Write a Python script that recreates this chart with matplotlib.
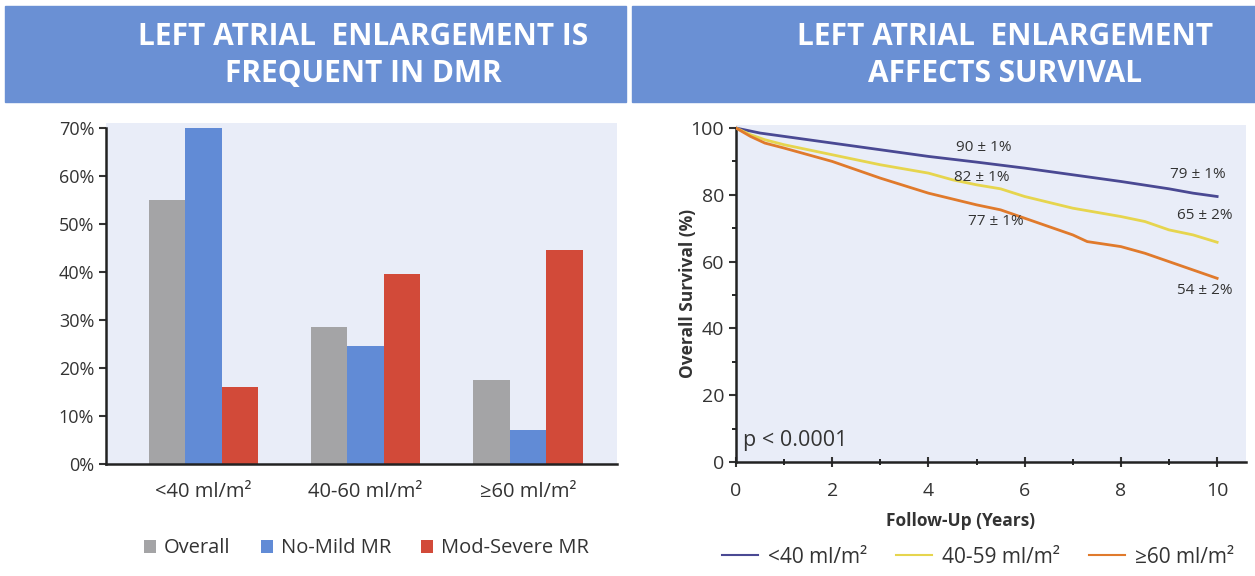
import matplotlib
matplotlib.use('Agg')
import matplotlib.pyplot as plt
import numpy as np
from matplotlib.patches import Rectangle
from matplotlib.lines import Line2D
from matplotlib.ticker import MultipleLocator

plt.rcParams['font.family'] = ['Open Sans', 'DejaVu Sans']

# Left panel: LA size distribution
groups = ['<40 ml/m²', '40-60 ml/m²', '≥60 ml/m²']
overall = [55, 28.5, 17.5]
no_mild = [70, 24.5, 7]
mod_severe = [16, 39.5, 44.5]
bar_labels = ['Overall', 'No-Mild MR', 'Mod-Severe MR']
bar_colors = ['#a4a4a6', '#618bd6', '#d24a39']

# Right panel: survival curves (years, %)
t_lt40 = [0, 0.5, 1, 1.5, 2, 3, 4, 5, 6, 7, 8, 9, 9.5, 10]
s_lt40 = [100, 98.5, 97.5, 96.5, 95.5, 93.5, 91.5, 89.8, 88, 86, 84, 81.8, 80.5, 79.5]
t_40_59 = [0, 0.3, 0.6, 1, 1.5, 2, 3, 4, 4.5, 5, 5.5, 6, 7, 8, 8.5, 9, 9.5, 10]
s_40_59 = [100, 98, 96.5, 95, 93.5, 92, 89, 86.5, 84.5, 83, 81.8, 79.5, 76, 73.5, 72, 69.5, 68, 65.8]
t_ge60 = [0, 0.3, 0.6, 1, 1.5, 2, 2.5, 3, 4, 5, 5.5, 6, 6.5, 7, 7.3, 8, 8.5, 9, 9.5, 10]
s_ge60 = [100, 97.5, 95.5, 94, 92, 90, 87.5, 85, 80.5, 77, 75.5, 73, 70.5, 68, 66, 64.5, 62.5, 60, 57.5, 55]
curve_labels = ['<40 ml/m²', '40-59 ml/m²', '≥60 ml/m²']
curve_colors = ['#4a4993', '#e6d54e', '#e07a2c']

# (text, x, y)
annotations = [('90 ± 1%', 5.15, 94.2), ('82 ± 1%', 5.1, 85.3), ('77 ± 1%', 5.4, 71.9),
               ('79 ± 1%', 9.6, 86.0), ('65 ± 2%', 9.75, 73.7), ('54 ± 2%', 9.75, 51.5)]

header_color = '#6a90d4'
panel_color = '#e9edf8'
text_color = '#333333'

fig = plt.figure(figsize=(12.55, 5.76), dpi=100)
W, H = 1255, 576

# Header bands
for x0, x1 in [(5, 626), (632, 1255)]:
    fig.patches.append(Rectangle((x0 / W, 1 - 102 / H), (x1 - x0) / W, 96 / H,
                                 transform=fig.transFigure, color=header_color, zorder=0))
head_kw = dict(ha='center', va='center', color='white', fontsize=21.5, fontweight='bold')
fig.text(363 / W, 1 - 37 / H, 'LEFT ATRIAL  ENLARGEMENT IS', **head_kw)
fig.text(363 / W, 1 - 74 / H, 'FREQUENT IN DMR', **head_kw)
fig.text(1005 / W, 1 - 37 / H, 'LEFT ATRIAL  ENLARGEMENT', **head_kw)
fig.text(1005 / W, 1 - 74 / H, 'AFFECTS SURVIVAL', **head_kw)

# ---- Left bar chart ----
ax1 = fig.add_axes([106 / W, 1 - 464 / H, 511 / W, (464 - 123) / H])
ax1.set_facecolor(panel_color)
x = np.arange(len(groups))
width = 0.225
for i, (vals, lab, col) in enumerate(zip([overall, no_mild, mod_severe], bar_labels, bar_colors)):
    ax1.bar(x + (i - 1) * width, vals, width, color=col, label=lab, zorder=2)
ax1.set_xlim(-0.6, 2.55)
ax1.set_ylim(0, 71)
ax1.set_yticks(range(0, 71, 10))
ax1.set_yticklabels([f'{v}%' for v in range(0, 71, 10)])
ax1.set_xticks(x)
ax1.set_xticklabels(groups)
ax1.tick_params(axis='x', length=0, pad=13, labelsize=14.5, colors=text_color)
ax1.tick_params(axis='y', length=5, width=1.5, labelsize=13, colors=text_color)
for s in ['top', 'right']:
    ax1.spines[s].set_visible(False)
ax1.spines['left'].set_bounds(0, 70)
for s in ['left', 'bottom']:
    ax1.spines[s].set_linewidth(1.8)
    ax1.spines[s].set_color('#222222')
ax1.legend(loc='upper center', bbox_to_anchor=(0.51, -0.165), ncol=3, frameon=False,
           fontsize=14.5, handlelength=0.6, handleheight=0.6, handletextpad=0.4,
           columnspacing=1.5, labelcolor=text_color)

# ---- Right survival chart ----
ax2 = fig.add_axes([736 / W, 1 - 462 / H, 510 / W, (462 - 124.7) / H])
ax2.set_facecolor(panel_color)
for t, s, lab, col in zip([t_lt40, t_40_59, t_ge60], [s_lt40, s_40_59, s_ge60],
                          curve_labels, curve_colors):
    ax2.plot(t, s, color=col, lw=2, label=lab, zorder=3)
for txt, tx, ty in annotations:
    ax2.text(tx, ty, txt, ha='center', va='center', fontsize=11, color=text_color)
ax2.text(0.15, 6.5, 'p < 0.0001', ha='left', va='center', fontsize=15.5, color=text_color)
ax2.set_xlim(0, 10.6)
ax2.set_ylim(0, 101)
ax2.set_xticks(range(0, 11, 2))
ax2.set_yticks(range(0, 101, 20))
ax2.xaxis.set_minor_locator(MultipleLocator(1))
ax2.yaxis.set_minor_locator(MultipleLocator(10))
ax2.tick_params(axis='x', which='major', direction='inout', length=7, width=1.5,
                labelsize=14, colors=text_color, pad=11)
ax2.tick_params(axis='x', which='minor', direction='inout', length=4, width=1.2)
ax2.tick_params(axis='y', which='major', length=5, width=1.5, labelsize=14, colors=text_color)
ax2.tick_params(axis='y', which='minor', length=3, width=1.2)
for s in ['top', 'right']:
    ax2.spines[s].set_visible(False)
ax2.spines['left'].set_bounds(0, 100)
for s in ['left', 'bottom']:
    ax2.spines[s].set_linewidth(1.8)
    ax2.spines[s].set_color('#222222')
ax2.set_xlabel('Follow-Up (Years)', fontsize=12.5, fontweight='bold', color=text_color)
ax2.set_ylabel('Overall Survival (%)', fontsize=12.5, fontweight='bold', color=text_color)
ax2.xaxis.set_label_coords((961 - 736) / 510, -(512 - 462) / 337)
ax2.yaxis.set_label_coords(-(736 - 697) / 510, 0.5)
handles = [Line2D([], [], color=c, lw=1.5) for c in curve_colors]
ax2.legend(handles, curve_labels, loc='upper center', bbox_to_anchor=(0.475, -0.195), ncol=3,
           frameon=False, fontsize=15, handlelength=1.7, handletextpad=0.5,
           columnspacing=1.4, labelcolor=text_color)

fig.savefig('out.png', dpi=100, facecolor='white')
